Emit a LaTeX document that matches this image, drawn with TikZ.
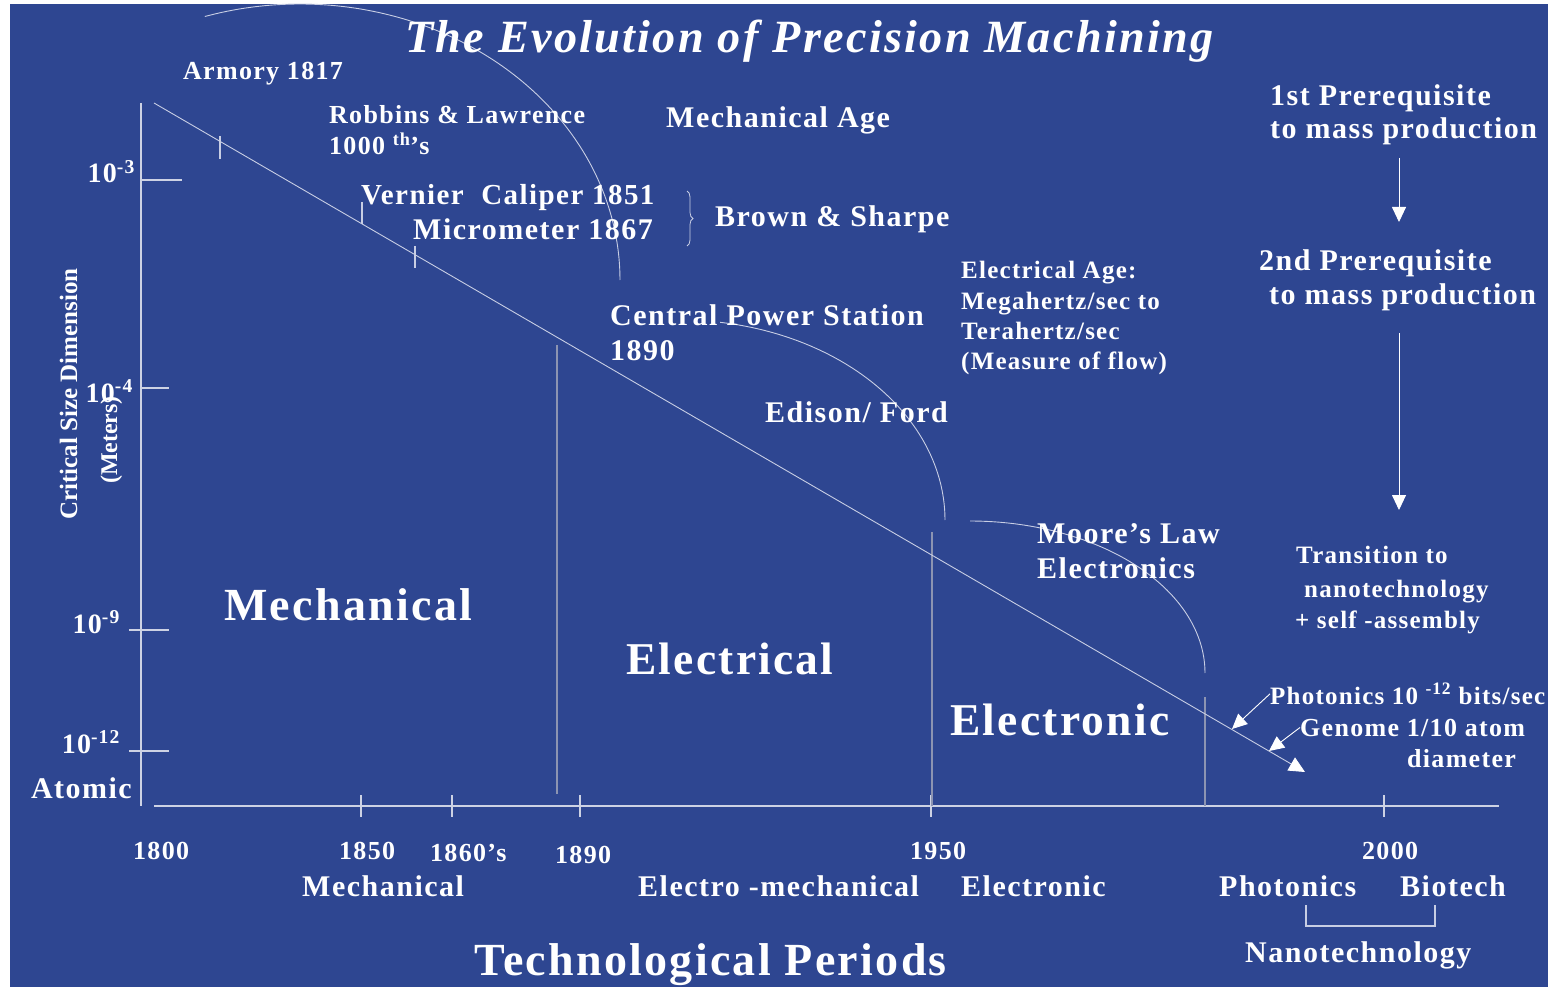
\documentclass[tikz,border=0pt]{standalone}
\usepackage{fontspec}
\setmainfont{Liberation Serif}[LetterSpace=5]
\newfontfamily\condfont{Liberation Serif}
\usetikzlibrary{arrows.meta,decorations.pathreplacing}
\definecolor{bg}{RGB}{46,70,145}
\definecolor{axisc}{RGB}{205,210,228}
\definecolor{linec}{RGB}{200,206,228}
\definecolor{divc}{RGB}{140,148,178}
\begin{document}
\begin{tikzpicture}[x=1pt,y=-1pt,
  txt/.style={text=white,inner sep=0pt,anchor=base west},
  f30/.style={txt,font=\bfseries\fontsize{30}{32}\selectfont},
  f28/.style={txt,font=\bfseries\fontsize{28}{30}\selectfont},
  f26/.style={txt,font=\bfseries\fontsize{26}{28}\selectfont},
  f25/.style={txt,font=\bfseries\fontsize{25}{28}\selectfont},
  f45/.style={txt,font=\bfseries\fontsize{45.5}{48}\selectfont},
  axisl/.style={draw=axisc,line width=1.6pt},
  diag/.style={draw=linec,line width=0.9pt},
  tick/.style={draw=linec,line width=1.2pt},
  arcl/.style={draw=linec,line width=0.9pt},
  divl/.style={draw=divc,line width=1.2pt},
  tip/.style={-{Triangle[width=15pt,length=16pt,color=white,fill=white]}},
  ptr/.style={draw=white,line width=0.9pt,-{Triangle[width=14pt,length=15pt]}}
]
\clip (0,0) rectangle (1548,987);
\fill[white] (0,0) rectangle (1548,987);
\fill[bg] (10,4) rectangle (1548,987);

% arcs
\draw[arcl] plot[domain=107.3:0,samples=60,smooth] ({300+320*cos(\x)},{280-276*sin(\x)});
\draw[arcl] plot[domain=81.3:0,samples=50,smooth] ({680+265*cos(\x)},{520-200*sin(\x)});
\draw[arcl] plot[domain=90:0,samples=50,smooth] ({970+235*cos(\x)},{673-152*sin(\x)});

% axes
\draw[axisl] (141,103) -- (141,806);
\draw[axisl] (154,806) -- (1499,806);
\draw[axisl] (141,180) -- (182,180);
\draw[axisl] (141,388) -- (169,388);
\draw[axisl] (129,630) -- (169,630);
\draw[axisl] (129,751) -- (169,751);
\foreach \xx in {361,452,580,931,1384} \draw[axisl] (\xx,795) -- (\xx,817);

% dividers
\draw[divl] (557,345) -- (557,794);
\draw[divl] (932,532) -- (932,806);
\draw[divl] (1205,697) -- (1205,806);

% diagonal
\coordinate (dstart) at (154,103);
\coordinate (dend) at (1305,772);
\draw[diag,tip] (dstart) -- (dend);
\draw[tick] (220,136) -- (220,159);
\draw[tick] (362,202) -- (362,224);
\draw[tick] (415,246) -- (415,268);

% title
\node[txt,font=\bfseries\itshape\fontsize{46.2}{48}\selectfont] (title) at (405,53) {The Evolution of Precision Machining};

% labels
\node[f26] (armory) at (183,80) {Armory 1817};
\node[f26] (robbins) at (329,124) {Robbins \& Lawrence};
\node[f26] (thou) at (329,155) {1000 \textsuperscript{th}’s};
\node[txt,font=\bfseries\fontsize{29}{32}\selectfont] (vernier) at (361,205) {Vernier\ \ Caliper 1851};
\node[f30] (micro) at (413,240) {Micrometer 1867};
\node[f30] (brown) at (715,227) {Brown \& Sharpe};
\draw[draw=linec,line width=0.8pt,decorate,decoration={brace,amplitude=6pt}] (687,191) -- (687,246);
\node[f30] (mechage) at (666,128) {Mechanical Age};
\node[f30] (pre1a) at (1270,106) {1st Prerequisite};
\node[f30] (pre1b) at (1270,139) {to mass production};
\node[f30] (pre2a) at (1259,270) {2nd Prerequisite};
\node[f30] (pre2b) at (1269,305) {to mass production};
\node[f25] (eage1) at (961,279) {Electrical Age:};
\node[f25] (eage2) at (961,309) {Megahertz/sec to};
\node[f25] (eage3) at (961,339) {Terahertz/sec};
\node[f25] (eage4) at (961,369) {(Measure of flow)};
\node[f30] (cps) at (610,325) {Central Power Station};
\node[f30] (cps2) at (610,360) {1890};
\node[f30] (edison) at (765,422) {Edison/ Ford};
\node[f30] (moore) at (1037,543) {Moore’s Law};
\node[f30] (moore2) at (1037,578) {Electronics};
\node[f25] (trans1) at (1296,563) {Transition to};
\node[f25] (trans2) at (1304,597) {nanotechnology};
\node[f25] (trans3) at (1295,628) {+ self -assembly};
\node[f25] (photon) at (1270,704) {Photonics 10 \textsuperscript{-12} bits/sec};
\node[f26] (genome) at (1300,736) {Genome 1/10 atom};
\node[f26] (diam) at (1407,767) {diameter};
\node[txt,font=\bfseries\fontsize{46}{48}\selectfont] (bigmech) at (224,620) {Mechanical};
\node[f45] (bigelec) at (626,674) {Electrical};
\node[f45] (bigtron) at (950,735) {Electronic};

% arrows
\coordinate (a1s) at (1399,158);
\coordinate (a1e) at (1399,222);
\coordinate (a2s) at (1399,333);
\coordinate (a2e) at (1399,510);
\draw[ptr] (a1s) -- (a1e);
\draw[ptr] (a2s) -- (a2e);
\coordinate (pa) at (1232,729);
\coordinate (ga) at (1269,751);
\draw[ptr] (photon.west) -- (pa);
\draw[ptr] (genome.west) -- (ga);

% y-axis labels
\node[f28,anchor=base east] (y3) at (135,183) {10\textsuperscript{-3}};
\node[f28,anchor=base east] (y4) at (133,402) {10\textsuperscript{-4}};
\node[f28,anchor=base east] (y9) at (120,633) {10\textsuperscript{-9}};
\node[f28,anchor=base east] (y12) at (120,753) {10\textsuperscript{-12}};
\node[f30,anchor=base east] (atomic) at (132,798) {Atomic};
\node[txt,anchor=base,rotate=90,font=\condfont\bfseries\fontsize{25}{27}\selectfont] (ylab) at (77,394) {Critical Size Dimension};
\node[txt,anchor=base,rotate=90,font=\condfont\bfseries\fontsize{24}{26}\selectfont] (ylab2) at (117,440) {(Meters)};

% x-axis labels
\node[f26] (x1800) at (133,859) {1800};
\node[f26] (x1850) at (339,859) {1850};
\node[f26] (x1860) at (430,861) {1860’s};
\node[f26] (x1890) at (555,863) {1890};
\node[f26] (x1950) at (910,859) {1950};
\node[f26] (x2000) at (1362,859) {2000};
\node[f30] (pmech) at (302,896) {Mechanical};
\node[f30] (pelmech) at (638,896) {Electro -mechanical};
\node[f30] (ptron) at (961,896) {Electronic};
\node[f30] (pphot) at (1219,896) {Photonics};
\node[f30] (pbio) at (1400,896) {Biotech};
\draw[tick] (1306,905) -- (1306,926) -- (1435,926) -- (1435,905);
\node[f30] (nano) at (1245,962) {Nanotechnology};
\node[txt,font=\bfseries\fontsize{46}{48}\selectfont] (techp) at (474,975) {Technological Periods};
\end{tikzpicture}
\end{document}
